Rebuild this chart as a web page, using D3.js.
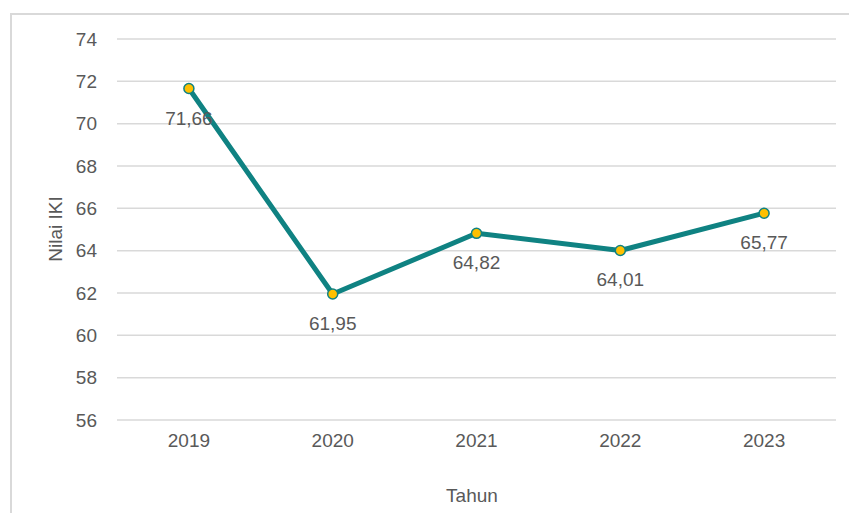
<!DOCTYPE html>
<html>
<head>
<meta charset="utf-8">
<script src="https://cdn.jsdelivr.net/npm/d3@7"></script>
<style>
  html, body { margin: 0; padding: 0; background: #fff; }
  svg { display: block; }
  text { font-family: "Liberation Sans", Arial, sans-serif; fill: #595959; }
</style>
</head>
<body>
<svg id="chart" width="849" height="513"></svg>
<script>
// Nilai IKI per tahun
const years = ["2019", "2020", "2021", "2022", "2023"];
const values = [71.66, 61.95, 64.82, 64.01, 65.77];
const valueLabels = ["71,66", "61,95", "64,82", "64,01", "65,77"];
const yTicks = [56, 58, 60, 62, 64, 66, 68, 70, 72, 74];

const svg = d3.select("#chart");
const W = 849, H = 513;
const plot = { left: 117, right: 836, top: 39, bottom: 420 };

// chart frame
svg.append("path")
  .attr("d", `M11,${H} L11,14 L${W},14`)
  .attr("fill", "none")
  .attr("stroke", "#d9d9d9")
  .attr("stroke-width", 2);

const x = d3.scaleBand().domain(years).range([plot.left, plot.right]);
const y = d3.scaleLinear().domain([56, 74]).range([plot.bottom, plot.top]);

// gridlines
svg.append("g")
  .selectAll("line")
  .data(yTicks)
  .join("line")
  .attr("x1", plot.left).attr("x2", plot.right)
  .attr("y1", d => y(d)).attr("y2", d => y(d))
  .attr("stroke", "#d9d9d9")
  .attr("stroke-width", 1.5);

// y axis tick labels
const yAxis = d3.axisLeft(y).tickValues(yTicks).tickSize(0).tickPadding(0);
const gy = svg.append("g").attr("transform", `translate(${97},0)`).call(yAxis);
gy.select(".domain").remove();
gy.selectAll("text")
  .attr("font-size", 19)
  .attr("fill", "#595959")
  .attr("font-family", "Liberation Sans, Arial, sans-serif");

// x axis tick labels
const xAxis = d3.axisBottom(x).tickSize(0).tickPadding(0);
const gx = svg.append("g").attr("transform", `translate(0,${433})`).call(xAxis);
gx.select(".domain").remove();
gx.selectAll("text")
  .attr("font-size", 19)
  .attr("fill", "#595959")
  .attr("dy", "0.71em")
  .attr("font-family", "Liberation Sans, Arial, sans-serif");

// axis titles
svg.append("text")
  .attr("x", 472).attr("y", 502)
  .attr("text-anchor", "middle")
  .attr("font-size", 19)
  .text("Tahun");

svg.append("text")
  .attr("transform", `translate(62,${229}) rotate(-90)`)
  .attr("text-anchor", "middle")
  .attr("font-size", 19)
  .text("Nilai IKI");

// series line
const cx = (d, i) => x(years[i]) + x.bandwidth() / 2;
const line = d3.line()
  .x((d, i) => cx(d, i))
  .y(d => y(d));

svg.append("path")
  .datum(values)
  .attr("d", line)
  .attr("fill", "none")
  .attr("stroke", "#0f8282")
  .attr("stroke-width", 5)
  .attr("stroke-linejoin", "round");

// markers
svg.append("g")
  .selectAll("circle")
  .data(values)
  .join("circle")
  .attr("cx", cx)
  .attr("cy", d => y(d))
  .attr("r", 5)
  .attr("fill", "#ffc000")
  .attr("stroke", "#0f8282")
  .attr("stroke-width", 1.5);

// data labels
svg.append("g")
  .selectAll("text")
  .data(values)
  .join("text")
  .attr("x", cx)
  .attr("y", d => y(d) + 36)
  .attr("text-anchor", "middle")
  .attr("font-size", 19)
  .text((d, i) => valueLabels[i]);
</script>
</body>
</html>
